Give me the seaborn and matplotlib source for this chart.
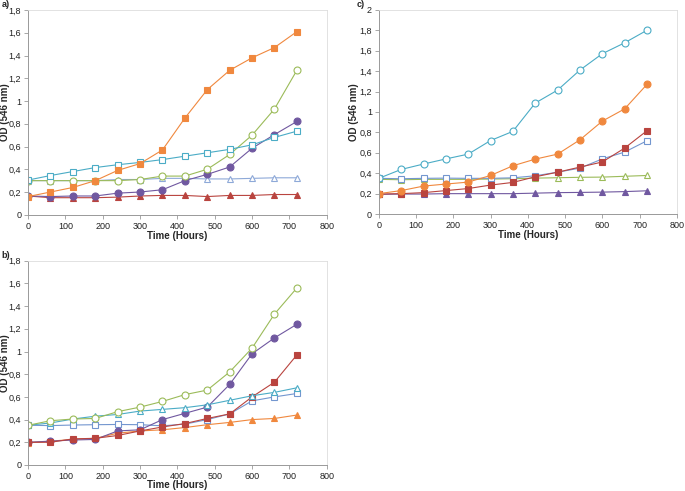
import matplotlib
matplotlib.use('Agg')
import matplotlib.pyplot as plt
import seaborn as sns
from matplotlib.ticker import FuncFormatter, MultipleLocator

# tempo de cultivo (h)
hours = [0, 60, 120, 180, 240, 300, 360, 420, 480, 540, 600, 660, 720]

# painel a)
a_orange_sq = [0.16, 0.20, 0.24, 0.30, 0.39, 0.45, 0.57, 0.85, 1.10, 1.27, 1.38, 1.47, 1.61]
a_green_oc = [0.30, 0.30, 0.30, 0.30, 0.30, 0.31, 0.34, 0.34, 0.40, 0.53, 0.70, 0.93, 1.27]
a_purple_c = [0.165, 0.16, 0.165, 0.165, 0.19, 0.20, 0.22, 0.30, 0.355, 0.42, 0.585, 0.705, 0.82]
a_cyan_os = [0.305, 0.345, 0.38, 0.415, 0.44, 0.46, 0.485, 0.515, 0.545, 0.575, 0.615, 0.68, 0.735]
a_blue_ot = [0.30, 0.30, 0.30, 0.30, 0.31, 0.31, 0.32, 0.32, 0.315, 0.315, 0.32, 0.325, 0.325]
a_red_t = [0.165, 0.15, 0.15, 0.15, 0.155, 0.165, 0.17, 0.17, 0.16, 0.17, 0.17, 0.178, 0.178]

# painel b)
b_green_oc = [0.35, 0.39, 0.405, 0.41, 0.47, 0.51, 0.56, 0.62, 0.66, 0.82, 1.03, 1.33, 1.56]
b_purple_c = [0.20, 0.21, 0.22, 0.225, 0.30, 0.31, 0.40, 0.455, 0.51, 0.71, 0.98, 1.12, 1.24]
b_red_sq = [0.20, 0.20, 0.23, 0.235, 0.26, 0.30, 0.335, 0.365, 0.41, 0.45, 0.60, 0.73, 0.97]
b_cyan_ot = [0.35, 0.37, 0.405, 0.43, 0.445, 0.475, 0.49, 0.505, 0.53, 0.57, 0.61, 0.64, 0.68]
b_blue_os = [0.35, 0.347, 0.352, 0.355, 0.357, 0.355, 0.345, 0.36, 0.40, 0.45, 0.565, 0.60, 0.63]
b_orange_t = [0.195, 0.21, 0.225, 0.235, 0.28, 0.30, 0.31, 0.33, 0.355, 0.375, 0.40, 0.41, 0.44]

# painel c)
c_cyan_oc = [0.35, 0.437, 0.49, 0.54, 0.587, 0.72, 0.81, 1.087, 1.214, 1.41, 1.57, 1.677, 1.80]
c_orange_c = [0.20, 0.23, 0.274, 0.294, 0.313, 0.378, 0.473, 0.538, 0.587, 0.727, 0.91, 1.03, 1.27]
c_red_sq = [0.196, 0.20, 0.21, 0.23, 0.25, 0.284, 0.31, 0.365, 0.41, 0.46, 0.51, 0.646, 0.816]
c_blue_os = [0.35, 0.346, 0.35, 0.352, 0.35, 0.35, 0.355, 0.375, 0.41, 0.45, 0.54, 0.607, 0.718]
c_green_ot = [0.34, 0.336, 0.34, 0.34, 0.34, 0.343, 0.346, 0.352, 0.356, 0.36, 0.362, 0.37, 0.378]
c_purple_t = [0.193, 0.196, 0.196, 0.20, 0.20, 0.20, 0.20, 0.205, 0.21, 0.212, 0.215, 0.22, 0.228]

ORANGE = '#F0883E'
RED = '#B9443F'
PURPLE = '#7058A0'
GREEN = '#9BBB59'
CYAN = '#4BACC6'
BLUE = '#7396CF'
LBLUE = '#8EA9D8'

sns.set_style('white')
plt.rcParams['font.family'] = ['Liberation Sans', 'DejaVu Sans']
plt.rcParams['font.size'] = 7


def serie(ax, y, cor, marcador, aberto=False, ms=5):
    sns.lineplot(x=hours, y=y, ax=ax, color=cor, linewidth=0.8,
                 marker=marcador, markersize=ms,
                 markerfacecolor='white' if aberto else cor,
                 markeredgecolor=cor, markeredgewidth=0.8)


def formata(ax, ymax, ycoord, xcoord):
    ax.set_xlim(0, 800)
    ax.set_ylim(0, ymax)
    ax.xaxis.set_major_locator(MultipleLocator(100))
    ax.yaxis.set_major_locator(MultipleLocator(0.2))
    ax.yaxis.set_major_formatter(FuncFormatter(lambda v, p: ('%g' % round(v, 1)).replace('.', ',')))
    ax.tick_params(length=3, width=0.6, color='#999999', labelsize=6.5, labelcolor='#222222', pad=2,
                   bottom=True, left=True)
    for s in ['top', 'right']:
        ax.spines[s].set_color('#DDDDDD')
        ax.spines[s].set_linewidth(0.6)
    for s in ['left', 'bottom']:
        ax.spines[s].set_color('#999999')
        ax.spines[s].set_linewidth(0.7)
    ax.set_xlabel('Time (Hours)', fontweight='bold', fontsize=7)
    ax.set_ylabel('OD (546 nm)', fontweight='bold', fontsize=7)
    ax.xaxis.set_label_coords(0.5, ycoord)
    ax.yaxis.set_label_coords(xcoord, 0.5)


fig = plt.figure(figsize=(6.85, 4.91), dpi=100)
axA = fig.add_axes([0.041, 0.5626, 0.436, 0.417])
axB = fig.add_axes([0.041, 0.053, 0.436, 0.416])
axC = fig.add_axes([0.553, 0.564, 0.435, 0.416])

# a)
serie(axA, a_red_t, RED, '^')
serie(axA, a_blue_ot, LBLUE, '^', aberto=True)
serie(axA, a_purple_c, PURPLE, 'o')
serie(axA, a_green_oc, GREEN, 'o', aberto=True)
serie(axA, a_cyan_os, CYAN, 's', aberto=True, ms=4.5)
serie(axA, a_orange_sq, ORANGE, 's', ms=4.5)
formata(axA, 1.8, -0.08, -0.062)

# b)
serie(axB, b_orange_t, ORANGE, '^')
serie(axB, b_blue_os, BLUE, 's', aberto=True, ms=4.5)
serie(axB, b_purple_c, PURPLE, 'o')
serie(axB, b_red_sq, RED, 's', ms=4.5)
serie(axB, b_cyan_ot, CYAN, '^', aberto=True)
serie(axB, b_green_oc, GREEN, 'o', aberto=True)
formata(axB, 1.8, -0.074, -0.062)

# c)
serie(axC, c_purple_t, PURPLE, '^')
serie(axC, c_green_ot, GREEN, '^', aberto=True)
serie(axC, c_blue_os, BLUE, 's', aberto=True, ms=4.5)
serie(axC, c_red_sq, RED, 's', ms=4.5)
serie(axC, c_orange_c, ORANGE, 'o')
serie(axC, c_cyan_oc, CYAN, 'o', aberto=True)
formata(axC, 2.0, -0.08, -0.068)

fig.text(0.002, 0.999, 'a)', fontweight='bold', fontsize=6.5, va='top')
fig.text(0.002, 0.489, 'b)', fontweight='bold', fontsize=6.5, va='top')
fig.text(0.521, 0.999, 'c)', fontweight='bold', fontsize=6.5, va='top')

fig.savefig('out.png', dpi=100)
